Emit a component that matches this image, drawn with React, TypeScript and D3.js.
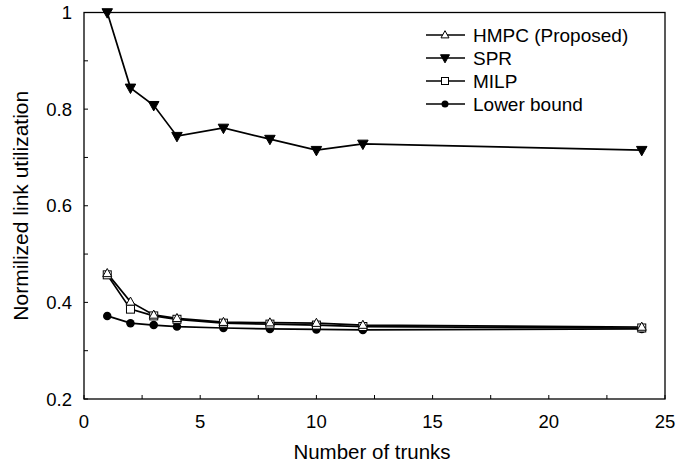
import React from "react";
import * as d3 from "d3";

const trunks = [1, 2, 3, 4, 6, 8, 10, 12, 24];
const hmpc = [0.46, 0.401, 0.374, 0.367, 0.359, 0.358, 0.357, 0.353, 0.349];
const spr = [1.0, 0.844, 0.808, 0.744, 0.761, 0.738, 0.715, 0.728, 0.715];
const milp = [0.457, 0.386, 0.372, 0.365, 0.357, 0.355, 0.353, 0.35, 0.347];
const lower = [0.372, 0.357, 0.353, 0.35, 0.347, 0.345, 0.344, 0.343, 0.345];
const xTicks = [0, 5, 10, 15, 20, 25];
const yTicks = [0.2, 0.4, 0.6, 0.8, 1];
const seriesNames = ["HMPC (Proposed)", "SPR", "MILP", "Lower bound"];

const W = 676, H = 466;
const left = 84, right = 665, top = 12.5, bottom = 399;

type Kind = "tri" | "tridown" | "square" | "circle";

function Marker({ kind, x, y, s }: { kind: Kind; x: number; y: number; s: number }) {
  if (kind === "tri") {
    const h = s * 0.9;
    return <polygon points={`${x},${y - h * 0.6} ${x - s / 2},${y + h * 0.4} ${x + s / 2},${y + h * 0.4}`} fill="#fff" stroke="#000" strokeWidth={1} />;
  }
  if (kind === "tridown") {
    const h = s * 0.9;
    return <polygon points={`${x},${y + h * 0.6} ${x - s / 2},${y - h * 0.4} ${x + s / 2},${y - h * 0.4}`} fill="#000" stroke="#000" strokeWidth={1} />;
  }
  if (kind === "square") {
    return <rect x={x - s / 2} y={y - s / 2} width={s} height={s} fill="#fff" stroke="#000" strokeWidth={1} />;
  }
  return <circle cx={x} cy={y} r={s / 2} fill="#000" />;
}

export default function App() {
  const x = d3.scaleLinear().domain([0, 25]).range([left, right]);
  const y = d3.scaleLinear().domain([0.2, 1]).range([bottom, top]);
  const series: { name: string; vals: number[]; kind: Kind; s: number; ls: number }[] = [
    { name: seriesNames[0], vals: hmpc, kind: "tri", s: 9, ls: 8 },
    { name: seriesNames[1], vals: spr, kind: "tridown", s: 10.5, ls: 9 },
    { name: seriesNames[2], vals: milp, kind: "square", s: 8, ls: 7 },
    { name: seriesNames[3], vals: lower, kind: "circle", s: 8.5, ls: 7 },
  ];
  const line = d3.line<number>().x((_, i) => x(trunks[i])).y((v) => y(v));
  const minorX = d3.range(0, 25.01, 2.5);
  const minorY = d3.range(0.2, 1.001, 0.1);
  const font = "Liberation Sans, Arial, sans-serif";
  const drawOrder = [3, 2, 0, 1];
  return (
    <svg width={W} height={H} style={{ position: "absolute", left: 0, top: 0 }} fontFamily={font}>
      <rect x={0} y={0} width={W} height={H} fill="#fff" />
      {drawOrder.map((k) => (
        <path key={"l" + k} d={line(series[k].vals) || ""} fill="none" stroke="#000" strokeWidth={1.7} />
      ))}
      {drawOrder.map((k) =>
        series[k].vals.map((v, i) => (
          <Marker key={"m" + k + "_" + i} kind={series[k].kind} x={x(trunks[i])} y={y(v)} s={series[k].s} />
        ))
      )}
      <rect x={left} y={top} width={right - left} height={bottom - top} fill="none" stroke="#000" strokeWidth={1.3} />
      {minorX.map((t) => (
        <line key={"xt" + t} x1={x(t)} x2={x(t)} y1={bottom} y2={bottom - 4} stroke="#000" strokeWidth={1} />
      ))}
      {minorY.map((t) => (
        <line key={"yt" + t} x1={left} x2={left + 4} y1={y(t)} y2={y(t)} stroke="#000" strokeWidth={1} />
      ))}
      {xTicks.map((t) => (
        <text key={"xl" + t} x={x(t)} y={428} textAnchor="middle" fontSize={18.5}>{t}</text>
      ))}
      {yTicks.map((t) => (
        <text key={"yl" + t} x={left - 12} y={y(t) + 6.5} textAnchor="end" fontSize={18.5}>{t}</text>
      ))}
      <text x={372} y={459} textAnchor="middle" fontSize={20.5}>Number of trunks</text>
      <text transform={`translate(28, ${(top + bottom) / 2}) rotate(-90)`} textAnchor="middle" fontSize={21}>Normilized link utilization</text>
      {series.map((s, i) => {
        const ly = 35 + i * 23;
        return (
          <g key={"lg" + i}>
            <line x1={426} x2={465} y1={ly} y2={ly} stroke="#000" strokeWidth={1.3} />
            <Marker kind={s.kind} x={445} y={ly} s={s.ls} />
            <text x={473} y={ly + 7} fontSize={19}>{s.name}</text>
          </g>
        );
      })}
    </svg>
  );
}
